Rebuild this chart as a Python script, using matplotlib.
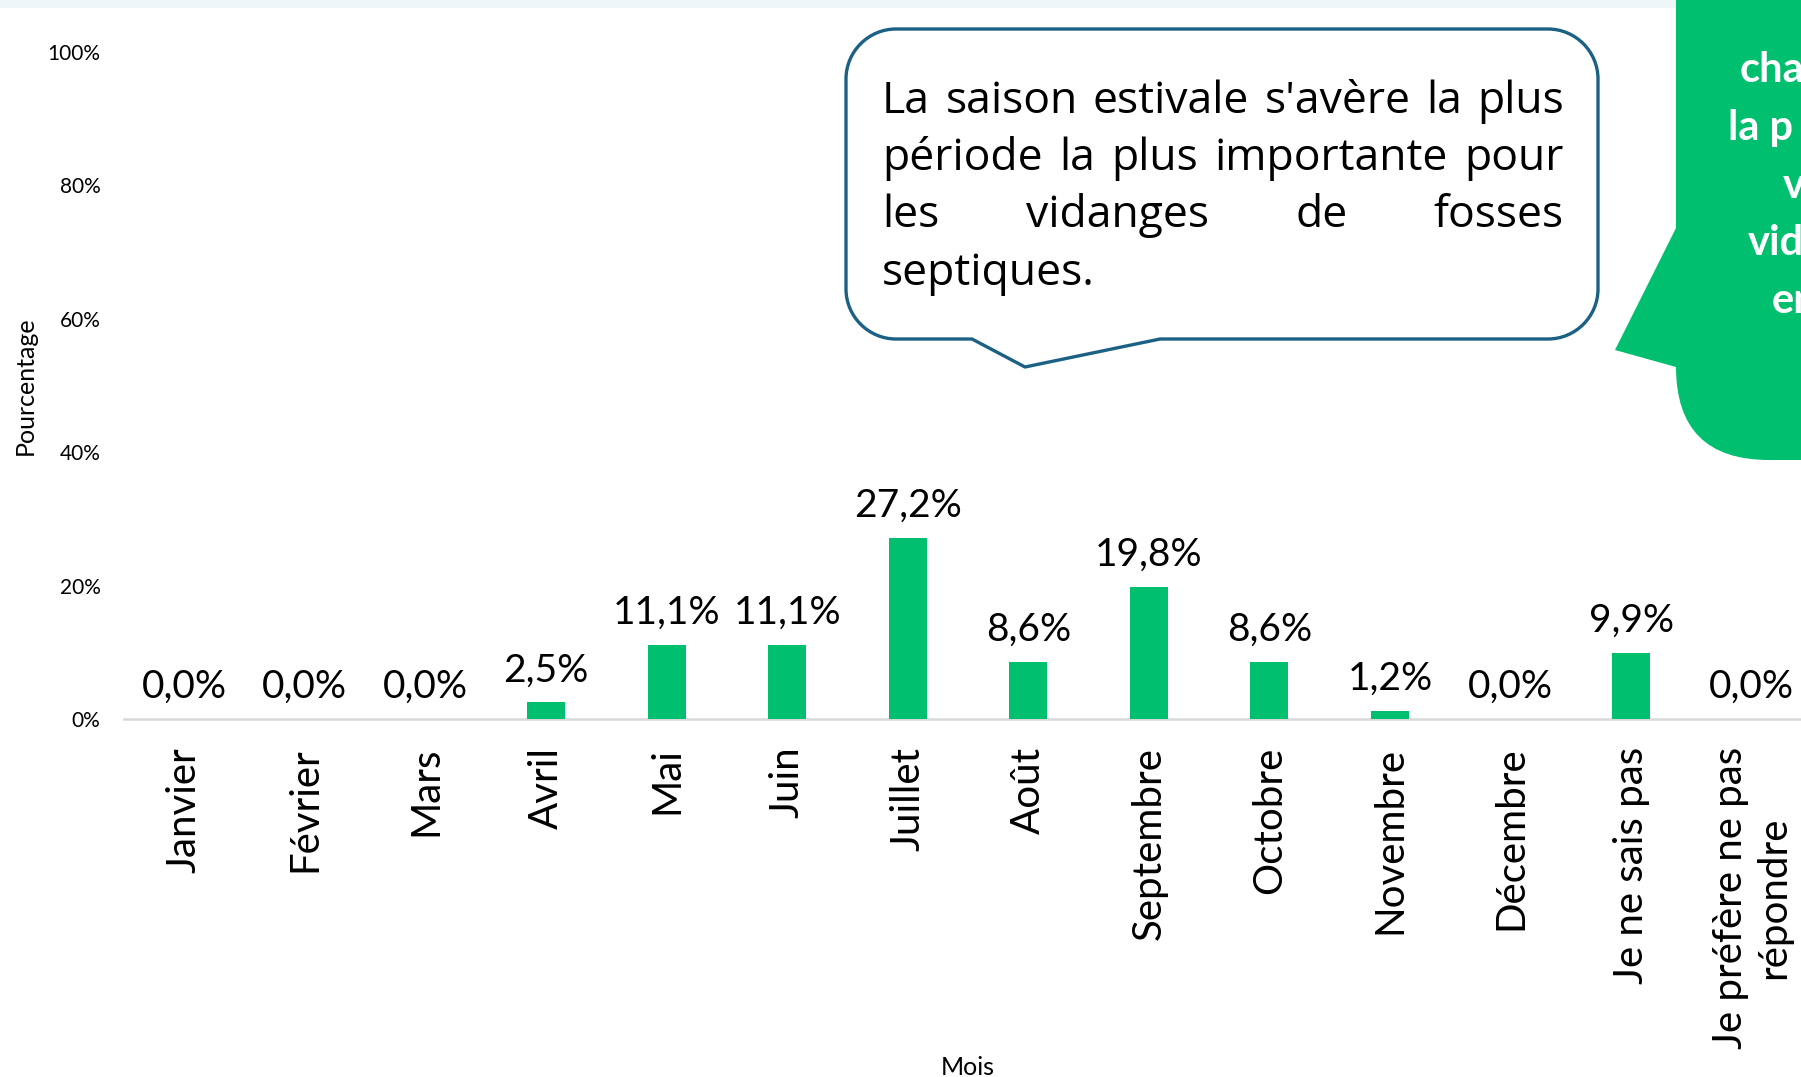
import matplotlib
matplotlib.use("Agg")
import matplotlib.pyplot as plt
import numpy as np
from matplotlib.patches import PathPatch, Rectangle
from matplotlib.path import Path

# data
categories = ["Janvier", "Février", "Mars", "Avril", "Mai", "Juin", "Juillet",
              "Août", "Septembre", "Octobre", "Novembre", "Décembre",
              "Je ne sais pas", "Je préfère ne pas\nrépondre"]
values = [0.0, 0.0, 0.0, 2.5, 11.1, 11.1, 27.2, 8.6, 19.8, 8.6, 1.2, 0.0, 9.9, 0.0]
yticks = [0, 20, 40, 60, 80, 100]

note_lines = ["La saison estivale s'avère la plus",
              "période la plus importante pour",
              "les vidanges de fosses",
              "septiques."]
green_lines = ["cha", "la p", "v", "vid", "en"]

W, H = 1801, 1077
GREEN = "#00BF6F"
FONT = ["Lato", "DejaVu Sans"]
NOTE_FONT = ["Open Sans", "DejaVu Sans"]

fig = plt.figure(figsize=(W / 100, H / 100), dpi=100)
fig.patch.set_facecolor("white")

# main chart (right side runs past the figure edge, as in the reference)
ax = fig.add_axes([124 / W, (H - 719) / H, 1688 / W, 667 / H])
x = np.arange(len(categories))
ax.bar(x, values, width=0.315, color=GREEN, zorder=3)
ax.set_xlim(-0.5, len(categories) - 0.5)
ax.set_ylim(0, 100)
ax.set_yticks(yticks)
ax.set_yticklabels([f"{t}%" for t in yticks], fontsize=15, family=FONT)
ax.set_xticks(x)
ax.set_xticklabels(categories, rotation=90, fontsize=29, family=FONT,
                   va="top", ha="center", multialignment="center")
ax.tick_params(axis="both", length=0)
ax.tick_params(axis="y", pad=17)
ax.tick_params(axis="x", pad=20)
for s in ["top", "right", "left"]:
    ax.spines[s].set_visible(False)
ax.spines["bottom"].set_color("#D9D9D9")
ax.spines["bottom"].set_linewidth(1.8)
ax.set_ylabel("Pourcentage", fontsize=18, family=FONT)
ax.yaxis.label.set_va("center")
ax.yaxis.set_label_coords((25 - 124) / 1688, 0.5)
ax.set_xlabel("Mois", fontsize=18, family=FONT)
ax.xaxis.label.set_va("baseline")
ax.xaxis.set_label_coords(0.5, -(1075 - 719) / 667)

for xi, v in zip(x, values):
    ax.annotate(f"{v:.1f}%".replace(".", ","), (xi, v), xytext=(0, 10),
                textcoords="offset points", ha="center", va="bottom",
                fontsize=28, family=FONT, zorder=4)

# overlay in pixel coordinates for the decorations
ov = fig.add_axes([0, 0, 1, 1], facecolor="none")
ov.set_xlim(0, W)
ov.set_ylim(H, 0)
ov.axis("off")

ov.add_patch(Rectangle((0, 0), 1676, 8, color="#EEF6FA", lw=0))

# green callout, cut by the right edge
r = 93
verts = [(1676, -5), (W + 10, -5), (W + 10, 460), (1676 + r, 460),
         (1676, 460), (1676, 460 - r), (1676, 367), (1615, 350),
         (1676, 228), (1676, -5)]
codes = [Path.MOVETO, Path.LINETO, Path.LINETO, Path.LINETO,
         Path.CURVE3, Path.CURVE3, Path.LINETO, Path.LINETO,
         Path.LINETO, Path.CLOSEPOLY]
ov.add_patch(PathPatch(Path(verts, codes), facecolor=GREEN, edgecolor="none"))
for (gx, gy), txt in zip([(1740, 82), (1728, 140), (1783, 198), (1748, 255), (1772, 313)],
                         green_lines):
    ov.text(gx, gy, txt, color="white", fontsize=30, fontweight="bold",
            family=FONT, ha="left", va="baseline")

# rounded speech bubble with a tail (cubic corners)
x0, x1, y0, y1, rr = 846, 1598, 29, 339, 50
c = rr * 0.45
bub = [(x0 + rr, y0), (x1 - rr, y0),
       (x1 - c, y0), (x1, y0 + c), (x1, y0 + rr),
       (x1, y1 - rr),
       (x1, y1 - c), (x1 - c, y1), (x1 - rr, y1),
       (1160, y1), (1025, 367), (972, y1), (x0 + rr, y1),
       (x0 + c, y1), (x0, y1 - c), (x0, y1 - rr),
       (x0, y0 + rr),
       (x0, y0 + c), (x0 + c, y0), (x0 + rr, y0),
       (x0 + rr, y0)]
bcodes = ([Path.MOVETO, Path.LINETO] + [Path.CURVE4] * 3 + [Path.LINETO]
          + [Path.CURVE4] * 3 + [Path.LINETO] * 4 + [Path.CURVE4] * 3
          + [Path.LINETO] + [Path.CURVE4] * 3 + [Path.CLOSEPOLY])
ov.add_patch(PathPatch(Path(bub, bcodes), facecolor="white", edgecolor="#1B6185",
                       lw=2.4, joinstyle="round"))

# justified text inside the bubble
left, right = 882, 1564
baselines = [113, 170, 227, 285]
fig.canvas.draw()
renderer = fig.canvas.get_renderer()


def word_widths(words, fs):
    out = []
    for w in words:
        t = ov.text(0, 0, w, fontsize=fs, family=NOTE_FONT)
        out.append(t.get_window_extent(renderer).width)
        t.remove()
    return out


fs = 32
for line in note_lines[:-1]:
    words = line.split()
    need = sum(word_widths(words, fs)) + (len(words) - 1) * 0.2 * fs * 100 / 72
    if need > right - left:
        fs = fs * (right - left) / need

for i, (line, by) in enumerate(zip(note_lines, baselines)):
    words = line.split()
    widths = word_widths(words, fs)
    if i == len(note_lines) - 1:
        gap = 0.26 * fs * 100 / 72
    else:
        gap = (right - left - sum(widths)) / (len(words) - 1)
    pos = left
    for w, wd in zip(words, widths):
        ov.text(pos, by, w, fontsize=fs, ha="left", va="baseline", family=NOTE_FONT)
        pos += wd + gap

fig.savefig("out.png", dpi=100)
